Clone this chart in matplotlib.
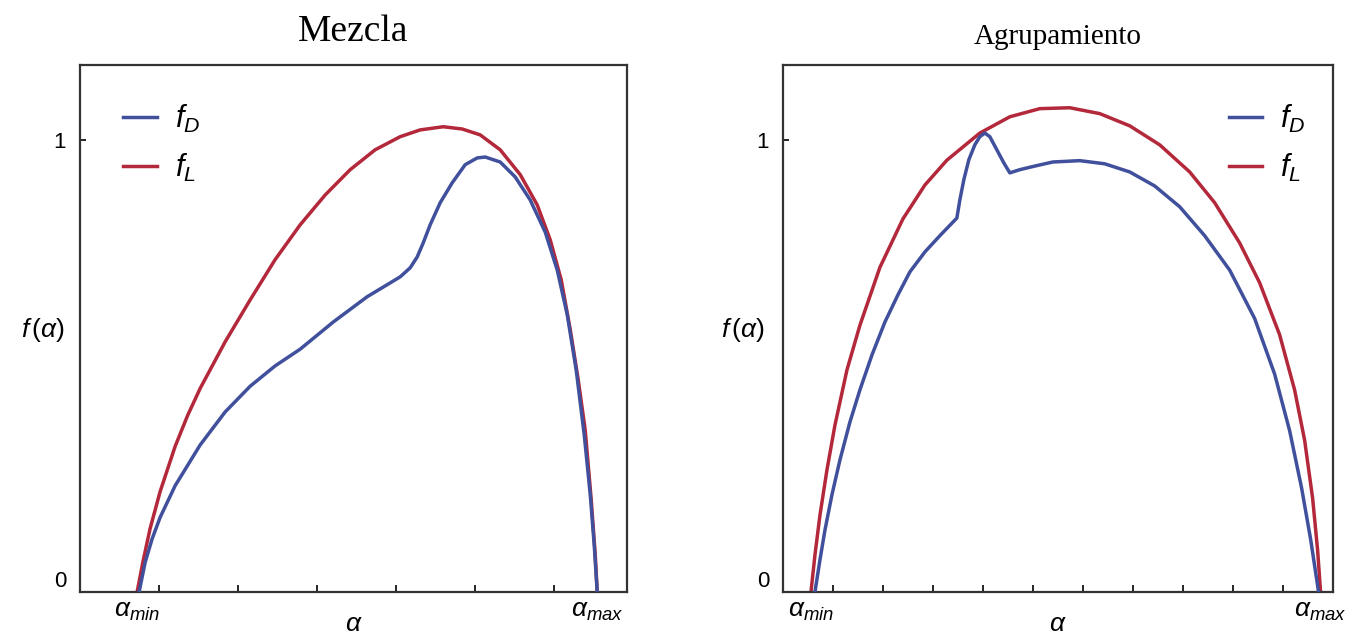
import matplotlib
matplotlib.use("Agg")
import matplotlib.pyplot as plt

plt.rcParams["font.family"] = ["Liberation Sans", "DejaVu Sans"]
plt.rcParams["mathtext.fontset"] = "custom"
plt.rcParams["mathtext.it"] = "Liberation Sans:italic"
plt.rcParams["mathtext.rm"] = "Liberation Sans"

BLUE = "#40509c"
RED = "#b3283a"

# --- Mezcla (left) ---
mez_red_x = [0.722, 0.797, 0.886, 1.013, 1.203, 1.360, 1.519, 1.835, 2.152, 2.468, 2.785, 3.101,
             3.418, 3.734, 4.051, 4.304, 4.595, 4.835, 5.063, 5.316, 5.570, 5.785, 5.949, 6.089,
             6.203, 6.304, 6.392, 6.468, 6.519, 6.544]
mez_red_y = [0.0, 0.068, 0.140, 0.222, 0.322, 0.390, 0.450, 0.553, 0.646, 0.735, 0.812, 0.878,
             0.934, 0.978, 1.007, 1.022, 1.029, 1.024, 1.011, 0.978, 0.923, 0.856, 0.779, 0.690,
             0.580, 0.469, 0.358, 0.204, 0.082, 0.0]

mez_blue_x = [0.747, 0.823, 0.911, 1.013, 1.203, 1.519, 1.835, 2.152, 2.468, 2.785, 3.203, 3.633,
              4.051, 4.177, 4.266, 4.342, 4.430, 4.557, 4.709, 4.873, 5.025, 5.127, 5.316, 5.506,
              5.696, 5.886, 6.038, 6.165, 6.278, 6.380, 6.456, 6.506, 6.544]
mez_blue_y = [0.0, 0.065, 0.117, 0.165, 0.235, 0.325, 0.398, 0.455, 0.500, 0.537, 0.597, 0.653,
              0.697, 0.717, 0.741, 0.772, 0.812, 0.861, 0.905, 0.945, 0.960, 0.962, 0.951, 0.918,
              0.867, 0.796, 0.712, 0.613, 0.491, 0.347, 0.215, 0.104, 0.0]

# --- Agrupamiento (right) ---
agr_red_x = [0.56, 0.64, 0.74, 0.88, 1.04, 1.28, 1.54, 1.94, 2.40, 2.84, 3.28, 3.94, 4.54, 5.14,
             5.74, 6.34, 6.94, 7.54, 8.14, 8.64, 9.14, 9.54, 9.94, 10.24, 10.44, 10.60, 10.70, 10.76]
agr_red_y = [0.0, 0.082, 0.170, 0.270, 0.369, 0.491, 0.590, 0.718, 0.825, 0.900, 0.955, 1.015,
             1.051, 1.069, 1.071, 1.058, 1.031, 0.989, 0.929, 0.861, 0.772, 0.684, 0.569, 0.447,
             0.336, 0.208, 0.093, 0.0]

agr_blue_x = [0.64, 0.74, 0.84, 0.98, 1.14, 1.34, 1.54, 1.78, 2.04, 2.30, 2.54, 2.84, 3.14, 3.48,
              3.54, 3.62, 3.72, 3.84, 3.94, 4.04, 4.14, 4.28, 4.42, 4.54, 4.74, 5.04, 5.40, 5.94,
              6.44, 6.94, 7.44, 7.94, 8.44, 8.94, 9.44, 9.84, 10.14, 10.38, 10.56, 10.72]
agr_blue_y = [0.0, 0.071, 0.137, 0.215, 0.292, 0.376, 0.447, 0.524, 0.597, 0.657, 0.708, 0.752,
              0.788, 0.827, 0.867, 0.912, 0.956, 0.989, 1.007, 1.015, 1.007, 0.978, 0.949, 0.927,
              0.934, 0.942, 0.951, 0.954, 0.947, 0.929, 0.898, 0.852, 0.788, 0.712, 0.605, 0.482,
              0.357, 0.230, 0.117, 0.0]

panels = [
    dict(title="Mezcla", title_size=27, title_pad=17, rect=[0.059, 0.0736, 0.403, 0.825],
         xmax=6.92, minor=[1, 2, 3, 4, 5, 6], amin=0.72, amax=6.54,
         red=(mez_red_x, mez_red_y), blue=(mez_blue_x, mez_blue_y),
         leg_loc="upper left", leg_anchor=(-0.01, 1.02), ylab_x=-0.028),
    dict(title="Agrupamiento", title_size=21, title_pad=15, rect=[0.577, 0.0736, 0.405, 0.825],
         xmax=11.0, minor=list(range(1, 11)), amin=0.56, amax=10.76,
         red=(agr_red_x, agr_red_y), blue=(agr_blue_x, agr_blue_y),
         leg_loc="upper right", leg_anchor=(1.04, 1.02), ylab_x=-0.033),
]

fig = plt.figure(figsize=(13.57, 6.39), dpi=100)

for p in panels:
    ax = fig.add_axes(p["rect"])
    ax.plot(*p["blue"], color=BLUE, lw=2.5, label="$f_D$", zorder=3, solid_joinstyle="round")
    ax.plot(*p["red"], color=RED, lw=2.5, label="$f_L$", zorder=2, solid_joinstyle="round")

    ax.set_xlim(0, p["xmax"])
    ax.set_ylim(0, 1.166)

    ax.set_xticks([p["amin"], p["amax"]])
    ax.set_xticklabels([r"$\alpha_{min}$", r"$\alpha_{max}$"], fontsize=19)
    ax.set_xticks(p["minor"], minor=True)
    ax.tick_params(axis="x", which="major", length=0, pad=5)
    ax.tick_params(axis="x", which="minor", direction="in", length=5, width=1.2)
    ax.set_yticks([0, 1])
    ax.set_yticklabels(["0", "1"], fontsize=16)
    ax.get_yticklabels()[0].set_va("bottom")
    ax.tick_params(axis="y", direction="in", length=4, width=1.2, pad=10)

    ax.set_xlabel(r"$\alpha$", fontsize=19, labelpad=-8)
    ax.set_ylabel(r"$f\,(\alpha)$", fontsize=19, rotation=0, ha="right", va="center")
    ax.yaxis.set_label_coords(p["ylab_x"], 0.497)

    ax.set_title(p["title"], family="Liberation Serif", fontsize=p["title_size"], pad=p["title_pad"])

    for s in ax.spines.values():
        s.set_color("#333333")
        s.set_linewidth(1.6)

    ax.legend(loc=p["leg_loc"], bbox_to_anchor=p["leg_anchor"], frameon=False, fontsize=22,
              handlelength=1.1, handletextpad=0.6, labelspacing=0.55, borderaxespad=1.2)

fig.savefig("out.png", dpi=100)
